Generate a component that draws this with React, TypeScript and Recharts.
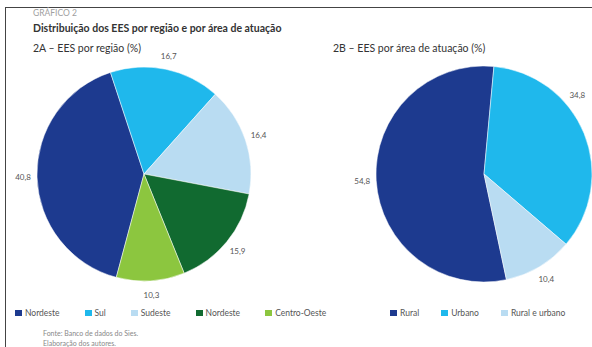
import React from 'react';
import { PieChart, Pie, Cell } from 'recharts';

const regionNames = ['Nordeste', 'Sul', 'Sudeste', 'Nordeste', 'Centro-Oeste'];
const regionValues = [40.8, 16.7, 16.4, 15.9, 10.3];
const regionColors = ['#1d3a8f', '#1fb8ec', '#b9dcf2', '#116a30', '#8cc63f'];

const areaNames = ['Rural', 'Urbano', 'Rural e urbano'];
const areaValues = [54.8, 34.8, 10.4];
const areaColors = ['#1d3a8f', '#1fb8ec', '#b9dcf2'];

const regionData = regionNames.map((name, i) => ({ name, value: regionValues[i] }));
const areaData = areaNames.map((name, i) => ({ name, value: areaValues[i] }));

const FONT = 'Lato, "Open Sans", sans-serif';
const RAD = Math.PI / 180;

const makeLabel = (chartWidth: number) => (props: any) => {
  const { cx, cy, midAngle, outerRadius, value } = props;
  const r = outerRadius + 14;
  let angle = midAngle;
  let x = cx + r * Math.cos(-angle * RAD);
  // keep the label inside the panel
  while (x > chartWidth - 14 && angle < 90) {
    angle += 1;
    x = cx + r * Math.cos(-angle * RAD);
  }
  const y = cy + r * Math.sin(-angle * RAD);
  return (
    <text
      x={x}
      y={y}
      textAnchor="middle"
      dominantBaseline="central"
      fontSize={8}
      fontFamily={FONT}
      fill="#555"
    >
      {value.toFixed(1).replace('.', ',')}
    </text>
  );
};

const LegendRow = ({ names, colors, gap }: { names: string[]; colors: string[]; gap: number }) => (
  <div style={{ display: 'flex', alignItems: 'center', gap, fontFamily: FONT, fontSize: 8.5, color: '#555' }}>
    {names.map((n, i) => (
      <div key={i} style={{ display: 'flex', alignItems: 'center' }}>
        <span style={{ width: 7, height: 6, background: colors[i], display: 'inline-block', marginRight: 3 }} />
        <span>{n}</span>
      </div>
    ))}
  </div>
);

export default function App() {
  return (
    <div
      style={{
        position: 'fixed',
        left: 0,
        top: 0,
        width: 592,
        height: 347,
        background: '#fff',
        overflow: 'hidden',
        fontFamily: FONT,
      }}
    >
      {/* frame */}
      <div style={{ position: 'absolute', left: 5, top: 7, width: 600, height: 400, borderTop: '1.5px solid #444', borderLeft: '1.5px solid #444' }} />

      <div style={{ position: 'absolute', left: 33, top: 8, fontSize: 8.5, color: '#a0a0a0' }}>GRÁFICO 2</div>
      <div style={{ position: 'absolute', left: 33, top: 22, fontSize: 10.5, fontWeight: 700, color: '#333' }}>
        Distribuição dos EES por região e por área de atuação
      </div>
      <div style={{ position: 'absolute', left: 33, top: 42, fontSize: 10.5, color: '#333' }}>2A – EES por região (%)</div>
      <div style={{ position: 'absolute', left: 333, top: 42, fontSize: 10.5, color: '#333' }}>2B – EES por área de atuação (%)</div>

      <div style={{ position: 'absolute', left: 0, top: 0 }}>
        <PieChart width={330} height={347} margin={{ top: 0, right: 0, bottom: 0, left: 0 }}>
          <Pie
            data={regionData}
            dataKey="value"
            nameKey="name"
            cx={144}
            cy={174}
            outerRadius={107}
            startAngle={255}
            endAngle={-105}
            stroke="#fff"
            strokeWidth={0.5}
            label={makeLabel(330)}
            labelLine={false}
            isAnimationActive={false}
          >
            {regionData.map((_, i) => (
              <Cell key={i} fill={regionColors[i]} />
            ))}
          </Pie>
        </PieChart>
      </div>

      <div style={{ position: 'absolute', left: 330, top: 0 }}>
        <PieChart width={262} height={347} margin={{ top: 0, right: 0, bottom: 0, left: 0 }}>
          <Pie
            data={areaData}
            dataKey="value"
            nameKey="name"
            cx={154}
            cy={174}
            outerRadius={108}
            startAngle={-78}
            endAngle={-438}
            stroke="#fff"
            strokeWidth={0.5}
            label={makeLabel(262)}
            labelLine={false}
            isAnimationActive={false}
          >
            {areaData.map((_, i) => (
              <Cell key={i} fill={areaColors[i]} />
            ))}
          </Pie>
        </PieChart>
      </div>

      <div style={{ position: 'absolute', left: 15, top: 308 }}>
        <LegendRow names={regionNames} colors={regionColors} gap={25} />
      </div>
      <div style={{ position: 'absolute', left: 390, top: 308 }}>
        <LegendRow names={areaNames} colors={areaColors} gap={22} />
      </div>

      <div style={{ position: 'absolute', left: 43, top: 328, fontSize: 7, color: '#888', lineHeight: '10px' }}>
        Fonte: Banco de dados do Sies.
        <br />
        Elaboração dos autores.
      </div>
    </div>
  );
}
